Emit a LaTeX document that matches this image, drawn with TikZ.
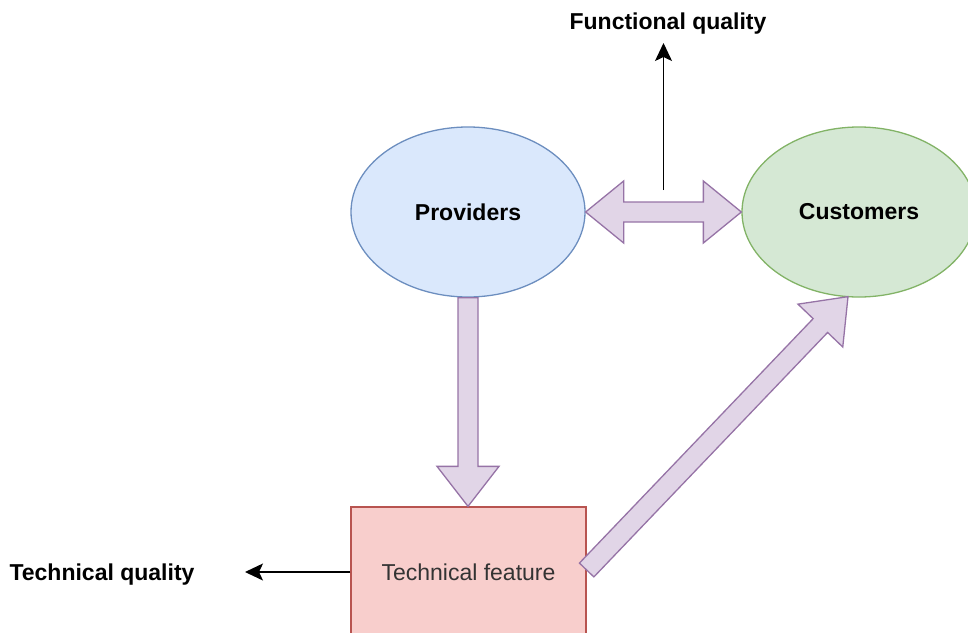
\documentclass[tikz,border=0pt]{standalone}
\usepackage{fontspec}
\setmainfont{Liberation Sans}
\usepackage{xcolor}
\usepackage{tikz}
\usetikzlibrary{arrows.meta,positioning,shapes.geometric,calc}

\definecolor{provfill}{HTML}{DAE8FC}
\definecolor{provline}{HTML}{6C8EBF}
\definecolor{custfill}{HTML}{D5E8D4}
\definecolor{custline}{HTML}{82B366}
\definecolor{featfill}{HTML}{F8CECC}
\definecolor{featline}{HTML}{B85450}
\definecolor{flexfill}{HTML}{E1D5E7}
\definecolor{flexline}{HTML}{9673A6}

% wide outlined arrow from #1 to #2
\newcommand{\fatarrow}[2]{%
  \coordinate (hb) at ($(#2)!40pt!(#1)$);
  \draw[flex] ($(#1)!10pt!90:(#2)$) -- ($(hb)!10pt!90:(#2)$) -- ($(hb)!31pt!90:(#2)$)
    -- (#2) -- ($(hb)!31pt!-90:(#2)$) -- ($(hb)!10pt!-90:(#2)$) -- ($(#1)!10pt!-90:(#2)$) -- cycle;
}

\begin{document}
\begin{tikzpicture}[
    x=1pt, y=-1pt,
    every node/.style={font=\fontsize{23}{27}\selectfont},
    party/.style={draw, ellipse, line width=1.3pt, minimum width=234pt, minimum height=170pt, font=\fontsize{23}{27}\selectfont\bfseries},
    feature/.style={draw=featline, fill=featfill, line width=1.3pt, minimum width=235pt, minimum height=130pt, text=black!80},
    label/.style={font=\fontsize{23}{27}\selectfont\bfseries},
    flex/.style={draw=flexline, fill=flexfill, line width=1.3pt, line join=miter},
    arr/.style={-{Stealth[length=18pt, width=17pt, inset=4pt]}, line width=1.5pt}
]
\clip (0,0) rectangle (968,632);
\useasboundingbox (0,0) rectangle (968,632);

\node[party, draw=provline, fill=provfill] (prov) at (468,212) {Providers};
\node[party, draw=custline, fill=custfill] (cust) at (859,212) {Customers};
\node[feature] (feat) at (468.5,572) {Technical feature};
\node[label] (func) at (668,24) {Functional quality};
\node[label] (tech) at (102,575) {Technical quality};

% two-way arrow between the ellipses
\coordinate (ha) at ($(prov.east)!38pt!(cust.west)$);
\coordinate (hc) at ($(cust.west)!38pt!(prov.east)$);
\draw[flex] (prov.east) -- ($(ha)!31pt!90:(cust.west)$) -- ($(ha)!10pt!90:(cust.west)$)
  -- ($(hc)!10pt!-90:(prov.east)$) -- ($(hc)!31pt!-90:(prov.east)$) -- (cust.west)
  -- ($(hc)!31pt!90:(prov.east)$) -- ($(hc)!10pt!90:(prov.east)$)
  -- ($(ha)!10pt!-90:(cust.west)$) -- ($(ha)!31pt!-90:(cust.west)$) -- cycle;

\coordinate (ftop) at (prov.south |- feat.north);
\fatarrow{prov.south}{ftop}
\coordinate (tail) at ($(feat.east)+(0,-2)$);
\coordinate (tip) at ($(cust.south)+(-11,-1)$);
\fatarrow{tail}{tip}

\coordinate (fstart) at ($($(prov.east)!0.5!(cust.west)$)+(0,-22)$);
\coordinate (fend) at ($(fstart)+(0,-147)$);
\coordinate (tend) at (245,572);
\draw[arr] (fstart) -- (fend);
\draw[arr] (feat.west) -- (tend);
\end{tikzpicture}
\end{document}
